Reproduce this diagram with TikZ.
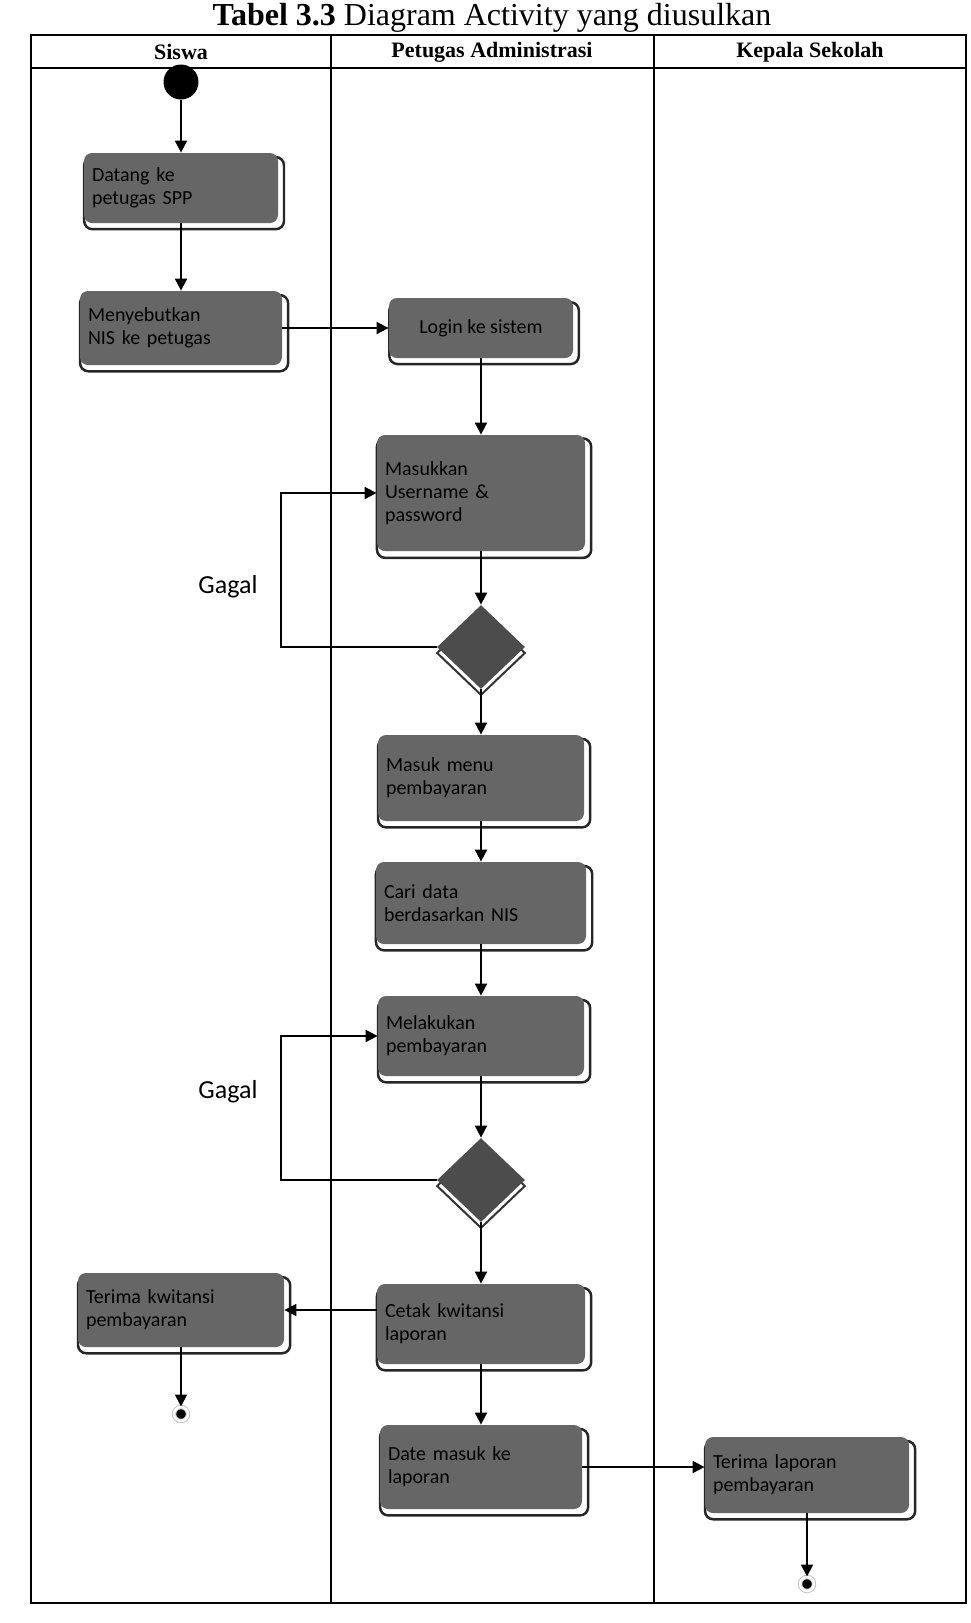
\documentclass[tikz,border=0pt]{standalone}
\usepackage{fontspec}
\setmainfont{Liberation Serif}
\newfontfamily\actfont{Carlito}
\usepackage{tikz}
\usetikzlibrary{arrows.meta,positioning,shapes.geometric,shadows,calc}

\begin{document}
\begin{tikzpicture}[x=0.5pt, y=-0.5pt, act/.style={rectangle, rounded corners=4pt, fill=black!60, text=black, align=left, inner xsep=2.5pt, inner ysep=4pt, font=\actfont\fontsize{10}{11.5}\selectfont, general shadow={shadow xshift=1.5pt, shadow yshift=-2.5pt, shadow scale=1.03, fill=white, draw=black!85, line width=1.2pt}}, dec/.style={diamond, fill=black!70, minimum width=44pt, minimum height=42pt, inner sep=0pt, general shadow={shadow yshift=-3pt, fill=white, draw=black!80, line width=1pt}}, ini/.style={circle, fill=black, minimum size=17.5pt, inner sep=0pt}, fin/.style={circle, fill=black, minimum size=7pt, inner sep=0pt, draw=gray!45, double=white, double distance=1.2pt, line width=0.5pt}, lane/.style={font=\bfseries\fontsize{11}{13}\selectfont}, arr/.style={-{Triangle[width=6pt,length=6pt]}, line width=0.9pt}, note/.style={font=\actfont\fontsize{13}{15}\selectfont}]
\useasboundingbox (0,0) rectangle (970,1623);
% tabel swimlane
\node[font=\fontsize{16}{18}\selectfont, inner sep=0pt, anchor=north] (judul) at (492,3) {\textbf{Tabel 3.3} Diagram Activity yang diusulkan};
\draw[line width=0.8pt] (31,35) rectangle (966,1603);
\draw[line width=0.6pt] (31,68) -- (966,68); \draw[line width=0.6pt] (331,35) -- (331,1603); \draw[line width=0.6pt] (654,35) -- (654,1603);
\node[lane] (siswa) at (181,52) {Siswa};
\node[lane] (petugas) at (492,52) {Petugas Administrasi};
\node[lane] (kepsek) at (810,52) {Kepala Sekolah};
% aktivitas
\node[ini] (mulai) at (181,82) {};
\node[act, minimum width=97pt, minimum height=35pt, text width=89pt] (datang) at (181,188) {Datang ke\\petugas SPP};
\node[act, minimum width=101pt, minimum height=37pt, text width=93pt] (sebut) at (181,328) {Menyebutkan\\NIS ke petugas};
\node[act, minimum width=92pt, minimum height=30pt, align=center] (login) at (481,328) {Login ke sistem};
\node[act, minimum width=104pt, minimum height=58pt, text width=96pt] (masuk) at (481,493) {Masukkan\\Username \&\\password};
\node[dec] (cek1) at (481,647) {};
\node[act, minimum width=103pt, minimum height=43pt, text width=95pt] (menu) at (481,778) {Masuk menu\\pembayaran};
\node[act, minimum width=105pt, minimum height=41pt, text width=97pt] (cari) at (481,903) {Cari data\\berdasarkan NIS};
\node[act, minimum width=103pt, minimum height=40pt, text width=95pt] (bayar) at (481,1036) {Melakukan\\pembayaran};
\node[dec] (cek2) at (481,1180) {};
\node[act, minimum width=103pt, minimum height=37pt, text width=95pt] (kwit) at (181,1310) {Terima kwitansi\\pembayaran};
\node[act, minimum width=104pt, minimum height=40pt, text width=96pt] (cetak) at (481,1324) {Cetak kwitansi\\laporan};
\node[act, minimum width=101pt, minimum height=42pt, text width=93pt] (lapor) at (481,1467) {Date masuk ke\\laporan};
\node[act, minimum width=102pt, minimum height=38pt, text width=94pt] (terima) at (807,1475) {Terima laporan\\pembayaran};
\node[fin] (selesai1) at (181,1414) {};
\node[fin] (selesai2) at (807,1584) {};
\node[note] (gagal1) at (228,587) {Gagal};
\node[note] (gagal2) at (228,1092) {Gagal};
\coordinate (balik) at (281,0);
% alur
\draw[arr] (mulai) -- (datang); \draw[arr] (datang) -- (sebut); \draw[arr] (sebut) -- (login); \draw[arr] (login) -- (masuk); \draw[arr] (masuk) -- (cek1); \draw[arr] (cek1) -- (menu);
\draw[arr] (menu) -- (cari); \draw[arr] (cari) -- (bayar); \draw[arr] (bayar) -- (cek2); \draw[arr] (cek2) -- (cetak); \draw[arr] (cetak) -- (lapor);
\draw[arr] (cetak.west |- kwit) -- (kwit); \draw[arr] (lapor.east) -- (lapor.east -| terima.west); \draw[arr] (kwit) -- (selesai1); \draw[arr] (terima) -- (selesai2);
\draw[arr] (cek1.west) -| (balik |- masuk) -- (masuk.west); \draw[arr] (cek2.west) -| (balik |- bayar) -- (bayar.west);
\end{tikzpicture}
\end{document}
